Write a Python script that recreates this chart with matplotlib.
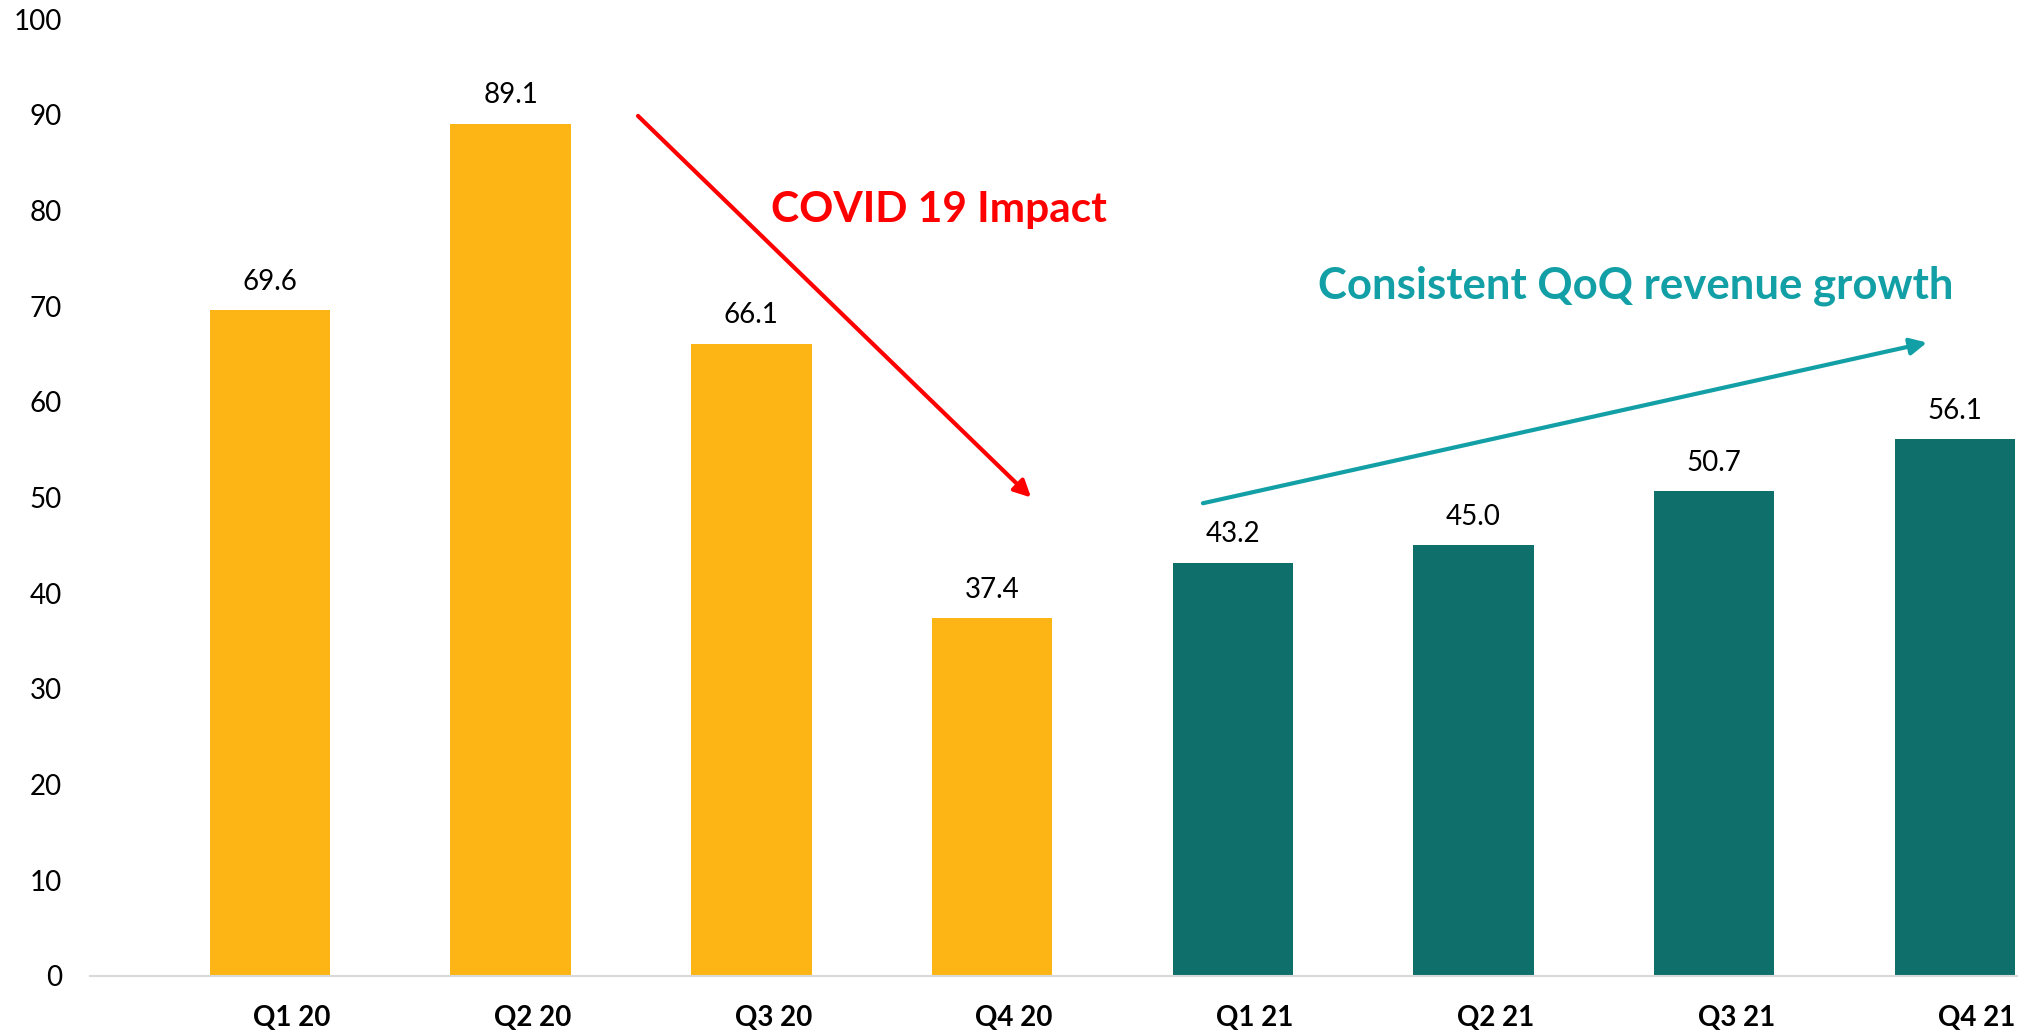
import matplotlib
matplotlib.use("Agg")
import matplotlib.pyplot as plt
from matplotlib.transforms import ScaledTranslation

categories = ["Q1 20", "Q2 20", "Q3 20", "Q4 20", "Q1 21", "Q2 21", "Q3 21", "Q4 21"]
values = [69.6, 89.1, 66.1, 37.4, 43.2, 45.0, 50.7, 56.1]
bar_colors = ["#FDB515"] * 4 + ["#0E6F6B"] * 4
y_ticks = [0, 10, 20, 30, 40, 50, 60, 70, 80, 90, 100]

plt.rcParams['font.family'] = ['Lato', 'DejaVu Sans']

fig = plt.figure(figsize=(20.21, 10.34), dpi=100)
ax = fig.add_axes([0.0445, 0.0564, 0.9535, 0.9249])

x = list(range(len(categories)))
bars = ax.bar(x, values, width=0.5, color=bar_colors, zorder=2)

for xi, v in zip(x, values):
    ax.annotate(f"{v:.1f}", (xi, v), xytext=(0, 11), textcoords="offset points",
                ha="center", va="bottom", fontsize=20, color="black")

ax.set_xlim(-0.748, 7.258)
ax.set_ylim(0, 100)
ax.set_yticks(y_ticks)
ax.set_xticks(x)
ax.set_xticklabels(categories, fontweight="bold", fontsize=20)
ax.tick_params(axis="y", length=0, labelsize=20, pad=20)
ax.tick_params(axis="x", length=0, pad=21)
shift = ScaledTranslation(0.22, 0, fig.dpi_scale_trans)
for lbl in ax.get_xticklabels():
    lbl.set_transform(lbl.get_transform() + shift)

for s in ["top", "right", "left"]:
    ax.spines[s].set_visible(False)
ax.spines["bottom"].set_color("#D9D9D9")
ax.spines["bottom"].set_linewidth(1.5)

# COVID arrow
ax.annotate("", xy=(3.162, 50.0), xytext=(1.529, 89.9),
            arrowprops=dict(arrowstyle="-|>", color="#FF0000", lw=3,
                            mutation_scale=25, shrinkA=0, shrinkB=0))
ax.text(2.08, 80.1, "COVID 19 Impact", color="#FF0000", fontsize=30.5,
        fontweight="bold", ha="left", va="center")

# Growth arrow
ax.annotate("", xy=(6.884, 66.2), xytext=(3.876, 49.4),
            arrowprops=dict(arrowstyle="-|>", color="#12A0A6", lw=3,
                            mutation_scale=25, shrinkA=0, shrinkB=0))
ax.text(4.354, 72.1, "Consistent QoQ revenue growth", color="#12A0A6", fontsize=31.5,
        fontweight="bold", ha="left", va="center")

fig.savefig("out.png", dpi=100)
